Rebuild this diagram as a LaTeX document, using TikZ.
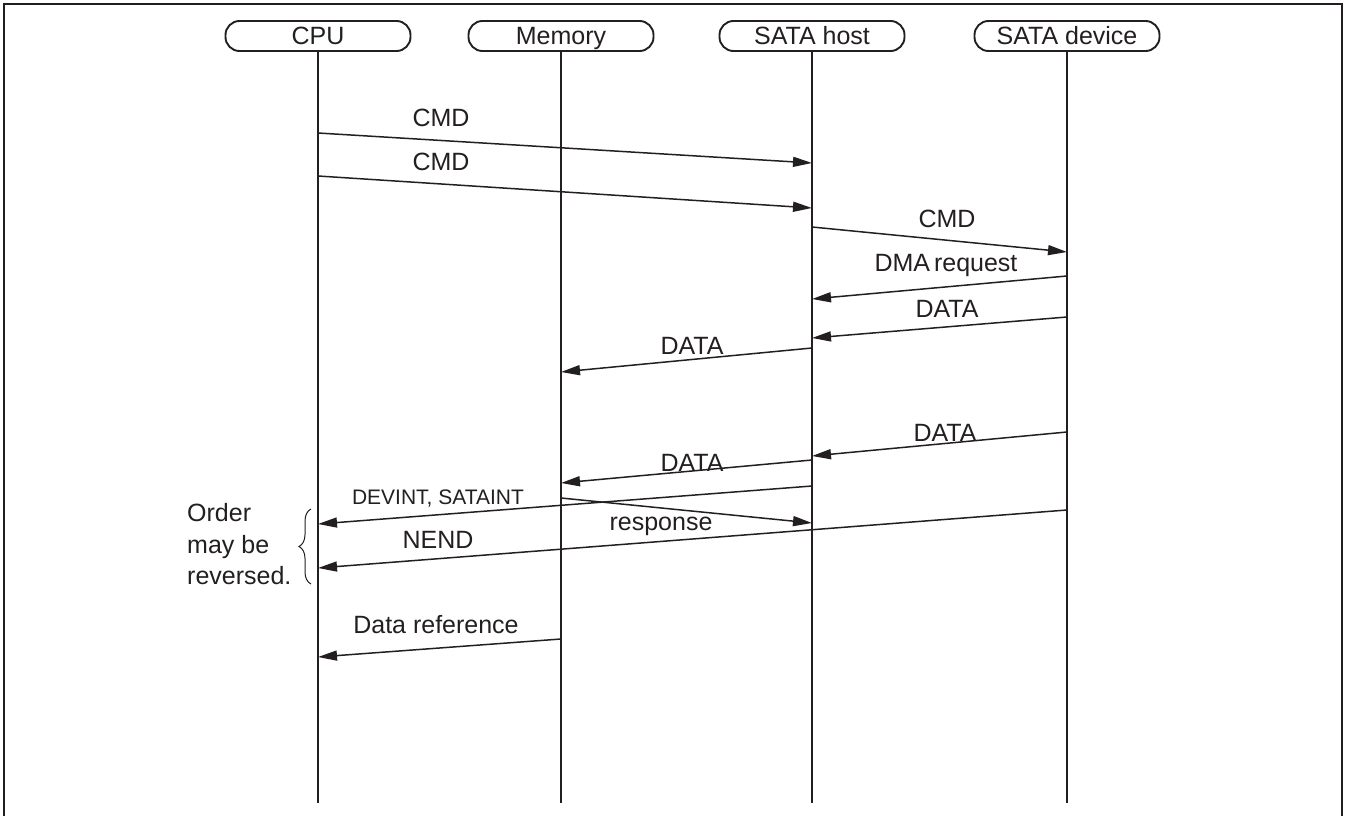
\documentclass[tikz,border=0pt]{standalone}
\usepackage{fontspec}
\setmainfont{Liberation Sans}
\usetikzlibrary{arrows.meta,decorations.pathreplacing}
\definecolor{ink}{RGB}{35,31,32}
\begin{document}
\begin{tikzpicture}[x=1pt,y=-1pt,
  every node/.style={font=\fontsize{25}{30}\selectfont, text=ink, inner sep=0pt},
  head/.style={draw=ink, line width=1.9pt, rounded corners=14pt, minimum width=185pt, minimum height=30pt, text height=18pt, text depth=0pt},
  life/.style={draw=ink, line width=1.3pt},
  msg/.style={draw=ink, line width=1.5pt, -{Triangle[length=19pt,width=10pt]}},
  lbl/.style={anchor=base},
  small/.style={anchor=base, font=\fontsize{21}{25}\selectfont},
  frame/.style={draw=ink, line width=2pt},
]
\useasboundingbox (0,0) rectangle (1347,816);
% frame
\coordinate (fbl) at (4,816);
\coordinate (ftl) at (4,4);
\coordinate (ftr) at (1342,4);
\coordinate (fbr) at (1342,816);
\draw[frame] (fbl) -- (ftl) -- (ftr) -- (fbr);

% heads
\node[head] (cpu) at (318,36) {CPU};
\node[head] (mem) at (561,36) {Memory};
\node[head] (host) at (812,36) {SATA host};
\node[head] (dev) at (1067,36) {SATA device};

% lifelines
\coordinate (cpuE) at (318,803);
\coordinate (memE) at (561,803);
\coordinate (hostE) at (812,803);
\coordinate (devE) at (1067,803);
\draw[life] (cpu.south) -- (cpuE);
\draw[life] (mem.south) -- (memE);
\draw[life] (host.south) -- (hostE);
\draw[life] (dev.south) -- (devE);

% message end points
\coordinate (a1) at (318,133);  \coordinate (b1) at (812,163);
\coordinate (a2) at (318,176);  \coordinate (b2) at (812,208);
\coordinate (a3) at (812,227);  \coordinate (b3) at (1067,252);
\coordinate (a4) at (1067,276); \coordinate (b4) at (812,299);
\coordinate (a5) at (1067,317); \coordinate (b5) at (812,338);
\coordinate (a6) at (812,348);  \coordinate (b6) at (561,372);
\coordinate (a7) at (1067,432); \coordinate (b7) at (812,456);
\coordinate (a8) at (812,460);  \coordinate (b8) at (561,483);
\coordinate (a9) at (812,486);  \coordinate (b9) at (318,524);
\coordinate (a10) at (561,498); \coordinate (b10) at (812,523);
\coordinate (a11) at (1067,510);\coordinate (b11) at (318,568);
\coordinate (a12) at (561,639); \coordinate (b12) at (318,657);

\draw[msg] (a1) -- (b1);
\draw[msg] (a2) -- (b2);
\draw[msg] (a3) -- (b3);
\draw[msg] (a4) -- (b4);
\draw[msg] (a5) -- (b5);
\draw[msg] (a6) -- (b6);
\draw[msg] (a7) -- (b7);
\draw[msg] (a8) -- (b8);
\draw[msg] (a9) -- (b9);
\draw[msg] (a10) -- (b10);
\draw[msg] (a11) -- (b11);
\draw[msg] (a12) -- (b12);

% labels
\node[lbl] (l1) at (441,126) {CMD};
\node[lbl] (l2) at (441,170) {CMD};
\node[lbl] (l3) at (947,227) {CMD};
\node[lbl] (l4) at (946,271) {DMA\kern-3pt{} request};
\node[lbl] (l5) at (947,317) {DATA};
\node[lbl] (l6) at (692,354) {DATA};
\node[lbl] (l7) at (945,441) {DATA};
\node[lbl] (l8) at (692,471) {DATA};
\node[small] (l9) at (438,504.5) {DEVINT, SATAINT};
\node[lbl] (l10) at (661,530) {response};
\node[lbl] (l11) at (438,548) {NEND};
\node[lbl] (l12) at (436,633) {Data reference};

% note with brace
\coordinate (br1) at (311,584);
\coordinate (br2) at (311,509);
\draw[ink, line width=1pt, decorate, decoration={brace, amplitude=12pt}] (br1) -- (br2);
\node[anchor=west, align=left, font=\fontsize{25}{31.5}\selectfont] (note) at (187,544.5) {Order\\may be\\reversed.};
\end{tikzpicture}
\end{document}
